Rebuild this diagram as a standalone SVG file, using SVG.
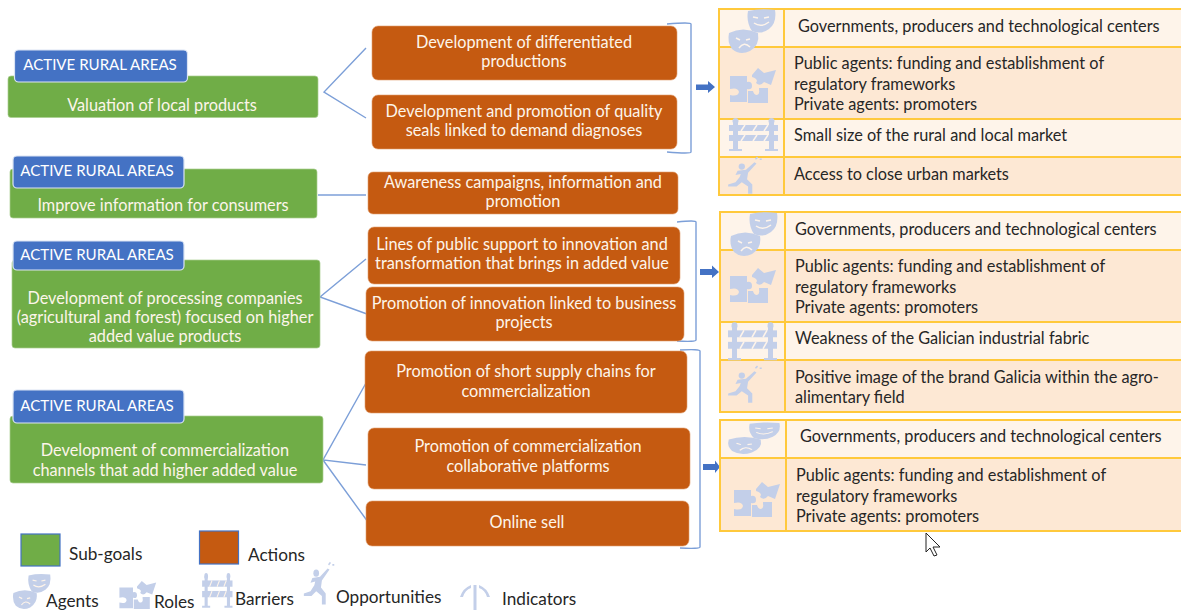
<svg xmlns="http://www.w3.org/2000/svg" width="1181" height="610" viewBox="0 0 1181 610">
<style>
text{font-family:"Lato","Carlito","Open Sans",sans-serif;font-size:16.3px;transform:translateY(1px)}
.w{fill:#fdf5ea;text-anchor:middle}
.b{fill:#fff;text-anchor:middle;font-size:15.1px}
.d{fill:#262626}
.l{font-size:17.2px}
.sub{fill:#70ad47;stroke:#a9cf90;stroke-width:.7}
.tag{fill:#4472c4;stroke:#dbe4f4;stroke-width:1.2}
.act{fill:#c55a11;stroke:#e0a070;stroke-width:.6}
.ln{fill:none;stroke:#7c9fd8;stroke-width:1.4}
.lt{fill:#fef4ea}
.dk{fill:#fde8d4}
.gr{fill:none;stroke:#ffc93c;stroke-width:2}
.ic{fill:#c3cfe9}
</style>
<defs>
<g id="masks">
<path class="ic" d="M-3 -17Q10 -20 24 -18Q26 -5 18 1Q10 7 1 3Q-5 -6 -3 -17Z"/>
<path d="M2 -11l5 1M13 -10l5 -1M3 -5Q10 0 18 -6" fill="none" stroke="#fef4ea" stroke-width="1.5"/>
<path class="ic" d="M-22 5Q-8 -2 7 5Q9 17 -1 23Q-11 28 -19 21Q-24 14 -22 5Z"/>
<path d="M-15 10l4 2M-5 12l4 -1M-12 20Q-7 13 -1 19" fill="none" stroke="#fef4ea" stroke-width="1.5"/>
</g>
<g id="puzzle">
<path class="ic" d="M-22 -12H-5V-6Q0 -7 0 -2Q0 2 -5 1V14H-22V7Q-14 9 -13 4Q-14 -1 -22 1Z"/>
<path class="ic" d="M-4 3H1Q2 7 5 7Q8 6 7 2V0H16V15H-4Z"/>
<path class="ic" d="M0 -13L6 -20L12 -15L24 -18L19 -3L12 -6Q8 -1 4 -5Q7 -9 0 -11Z"/>
</g>
<g id="barrier">
<rect class="ic" x="-20" y="-15" width="5" height="29"/>
<rect class="ic" x="16" y="-15" width="5" height="29"/>
<circle class="ic" cx="-17.500" cy="-15" r="3"/>
<circle class="ic" cx="18.500" cy="-15" r="3"/>
<rect class="ic" x="-24" y="-11" width="49" height="6"/>
<rect class="ic" x="-24" y="-1" width="49" height="6"/>
<path class="ic" d="M-24 13H-11V15H-24ZM12 13H25V15H12Z"/>
<path d="M-12 -5l4 -6M0 -5l4 -6M11 -5l4 -6M-12 5l4 -6M0 5l4 -6M11 5l4 -6" stroke="#fef4ea" stroke-width="1.500"/>
</g>
<g id="runner">
<circle class="ic" cx="-4" cy="-9" r="3"/>
<path class="ic" d="M-8 -5L0 -6L8 -13L10 -12L2 -3L1 3L6 8L6 17L2 17L2 10L-4 6L-9 10L-17 10L-17 8L-10 6L-6 1L-5 -2L-10 -1Z"/>
<path d="M9 -16l2 -2M13 -16h2" stroke="#c3cfe9" stroke-width="1.500"/>
</g>
<g id="umbrella">
<path d="M0 -12V24" stroke="#c3cfe9" stroke-width="3"/>
<path d="M-15 0Q-12 -9 -4 -12L-4 -9Q-10 -7 -12 0ZM15 0Q12 -9 4 -12L4 -9Q10 -7 12 0Z" class="ic"/>
</g>
</defs>

<g id="connectors">
<path class="ln" d="M366 48L324 92L366 118"/>
<path class="ln" d="M318 195H366"/>
<path class="ln" d="M366 259L320 297L367 314"/>
<path class="ln" d="M366 383L323 460L366 465M323 460L368 522"/>
<path class="ln" d="M667 24Q691 22 691 24V152Q691 154 667 152"/>
<path class="ln" d="M677 222Q696 220 696 222V340Q696 342 677 341"/>
<path class="ln" d="M680 350Q700 349 700 351V547Q700 549 680 548"/>
<path d="M696 84.500H708V81L715 87L708 93V90H696Z" fill="#4472c4"/>
<path d="M700 269H712V265.500L719 272L712 278V275H700Z" fill="#4472c4"/>
<path d="M703 464H715V460.500L720 467L715 473V470H703Z" fill="#4472c4"/>
</g>

<g id="goal1">
<rect class="sub" x="8" y="76" width="310" height="41.500" rx="3"/>
<text class="w" x="162" y="110">Valuation of local products</text>
<rect class="tag" x="14.500" y="50" width="173" height="32" rx="4"/>
<text class="b" x="100" y="69">ACTIVE RURAL AREAS</text>
</g>
<g id="goal2">
<rect class="sub" x="10" y="169" width="307" height="49" rx="3"/>
<text class="w" x="163" y="210">Improve information for consumers</text>
<rect class="tag" x="13" y="156" width="171" height="32" rx="4"/>
<text class="b" x="97" y="175">ACTIVE RURAL AREAS</text>
</g>
<g id="goal3">
<rect class="sub" x="12" y="260" width="308" height="88" rx="3"/>
<text class="w" x="165" y="303">Development of processing companies</text>
<text class="w" x="165" y="322">(agricultural and forest) focused on higher</text>
<text class="w" x="165" y="341">added value products</text>
<rect class="tag" x="13" y="241" width="171" height="29" rx="4"/>
<text class="b" x="97" y="259">ACTIVE RURAL AREAS</text>
</g>
<g id="goal4">
<rect class="sub" x="10" y="416" width="313" height="67" rx="3"/>
<text class="w" x="165" y="455">Development of commercialization</text>
<text class="w" x="165" y="475">channels that add higher added value</text>
<rect class="tag" x="13" y="390" width="171" height="33" rx="4"/>
<text class="b" x="97" y="410">ACTIVE RURAL AREAS</text>
</g>

<g id="action1"><rect class="act" x="372" y="26" width="305" height="54" rx="6"/><text class="w" x="524" y="47">Development of differentiated</text><text class="w" x="524" y="66">productions</text></g>
<g id="action2"><rect class="act" x="372" y="95" width="305" height="54" rx="6"/><text class="w" x="524" y="116">Development and promotion of quality</text><text class="w" x="524" y="135">seals linked to demand diagnoses</text></g>
<g id="action3"><rect class="act" x="368" y="172" width="310" height="42" rx="5"/><text class="w" x="523" y="187">Awareness campaigns, information and</text><text class="w" x="523" y="206">promotion</text></g>
<g id="action4"><rect class="act" x="368" y="227" width="312" height="57" rx="6"/><text class="w" x="522" y="249">Lines of public support to innovation and</text><text class="w" x="522" y="268">transformation that brings in added value</text></g>
<g id="action5"><rect class="act" x="366" y="287" width="318" height="54" rx="6"/><text class="w" x="524" y="308">Promotion of innovation linked to business</text><text class="w" x="524" y="327">projects</text></g>
<g id="action6"><rect class="act" x="365" y="351" width="322" height="62" rx="6"/><text class="w" x="526" y="376">Promotion of short supply chains for</text><text class="w" x="526" y="396">commercialization</text></g>
<g id="action7"><rect class="act" x="368" y="428" width="322" height="61" rx="6"/><text class="w" x="528" y="451">Promotion of commercialization</text><text class="w" x="528" y="471">collaborative platforms</text></g>
<g id="action8"><rect class="act" x="366" y="501" width="323" height="45" rx="6"/><text class="w" x="527" y="527">Online sell</text></g>

<g id="table1">
<rect class="lt" x="719" y="9" width="462" height="38"/>
<rect class="dk" x="719" y="47" width="462" height="72"/>
<rect class="lt" x="719" y="119" width="462" height="38"/>
<rect class="dk" x="719" y="157" width="462" height="38"/>
<path class="gr" d="M1181 9H719V195H1181M719 47H1181M719 119H1181M719 157H1181M784 9V195"/>
<use href="#masks" x="751" y="28"/>
<use href="#puzzle" x="752" y="88"/>
<use href="#barrier" x="753" y="136"/>
<use href="#runner" transform="translate(746 176) scale(1.05)"/>
<text class="d" x="798" y="31">Governments, producers and technological centers</text>
<text class="d" x="794" y="68">Public agents: funding and establishment of</text>
<text class="d" x="794" y="89">regulatory frameworks</text>
<text class="d" x="794" y="109">Private agents: promoters</text>
<text class="d" x="794" y="140">Small size of the rural and local market</text>
<text class="d" x="794" y="179">Access to close urban markets</text>
</g>
<g id="table2">
<rect class="lt" x="720" y="212" width="461" height="38"/>
<rect class="dk" x="720" y="250" width="461" height="72"/>
<rect class="lt" x="720" y="322" width="461" height="38"/>
<rect class="dk" x="720" y="360" width="461" height="52"/>
<path class="gr" d="M1181 212H720V412H1181M720 250H1181M720 322H1181M720 360H1181M785 212V412"/>
<use href="#masks" x="753" y="231"/>
<use href="#puzzle" x="752" y="288"/>
<use href="#barrier" transform="translate(752 343) scale(1 1.15)"/>
<use href="#runner" transform="translate(746 385) scale(1.05)"/>
<text class="d" x="795" y="234">Governments, producers and technological centers</text>
<text class="d" x="795" y="271">Public agents: funding and establishment of</text>
<text class="d" x="795" y="292">regulatory frameworks</text>
<text class="d" x="795" y="312">Private agents: promoters</text>
<text class="d" x="795" y="343">Weakness of the Galician industrial fabric</text>
<text class="d" x="795" y="382">Positive image of the brand Galicia within the agro-</text>
<text class="d" x="795" y="402">alimentary field</text>
</g>
<g id="table3">
<rect class="lt" x="720" y="420" width="461" height="38"/>
<rect class="dk" x="720" y="458" width="461" height="73"/>
<path class="gr" d="M1181 420H720V531H1181M720 458H1181M786 420V531"/>
<use href="#masks" transform="translate(753 436) scale(1.1 .72)"/>
<use href="#puzzle" x="756" y="502"/>
<text class="d" x="800" y="441">Governments, producers and technological centers</text>
<text class="d" x="796" y="480">Public agents: funding and establishment of</text>
<text class="d" x="796" y="501">regulatory frameworks</text>
<text class="d" x="796" y="521">Private agents: promoters</text>
</g>

<g id="legend">
<rect x="21" y="534" width="39" height="32" fill="#70ad47" stroke="#4472c4" stroke-width="1.2"/>
<text class="d l" x="69" y="559">Sub-goals</text>
<rect x="199.500" y="531" width="39" height="33" fill="#c55a11" stroke="#4472c4" stroke-width="1.2"/>
<text class="d l" x="248" y="560">Actions</text>
<use href="#masks" transform="translate(31 589) scale(.8)"/>
<text class="d l" x="46" y="606">Agents</text>
<use href="#puzzle" transform="translate(137 597) scale(.8)"/>
<text class="d l" x="154" y="607">Roles</text>
<use href="#barrier" transform="translate(217 592) scale(.62 1.05)"/>
<text class="d l" x="235" y="604">Barriers</text>
<use href="#runner" transform="translate(320 584) scale(.95 1.2)"/>
<text class="d l" x="336" y="602">Opportunities</text>
<use href="#umbrella" x="475" y="597"/>
<text class="d l" x="502" y="604">Indicators</text>
</g>
<path id="cursor" d="M926 533V552L930 548L934 556L937 555L933 547L940 547Z" fill="#fff" stroke="#222" stroke-width="1"/>
</svg>
